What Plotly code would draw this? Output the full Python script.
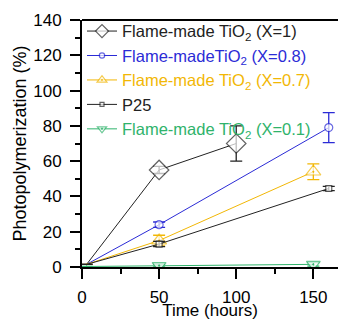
import plotly.graph_objects as go

# ---- data ----
time_x1 = [3, 50, 100]
val_x1 = [1.5, 55, 70]
err_x1 = [0, 2, 10]

time_x08 = [3, 50, 160]
val_x08 = [1.5, 24, 79]
err_x08 = [0, 1.5, 8.5]

time_x07 = [3, 50, 150]
val_x07 = [1.5, 15, 54]
err_x07 = [0, 3, 4.5]

time_p25 = [3, 50, 160]
val_p25 = [1.5, 13, 44.5]
err_p25 = [0, 1.5, 1.2]

time_x01 = [3, 50, 150]
val_x01 = [0.3, 0.8, 1.5]
err_x01 = [0, 0.8, 1.0]

x_ticks = [0, 50, 100, 150]
y_ticks = [0, 20, 40, 60, 80, 100, 120, 140]

BLACK = "#222222"
BLUE = "#2b2bd6"
ORANGE = "#f2b705"
GREEN = "#2fb36b"

FONT = "Liberation Sans, Arial, sans-serif"

series = [
    ("Flame-made TiO<sub>2</sub> (X=1)", time_x1, val_x1, err_x1, BLACK, "diamond", 15),
    ("Flame-madeTiO<sub>2</sub> (X=0.8)", time_x08, val_x08, err_x08, BLUE, "circle", 8),
    ("Flame-made TiO<sub>2</sub> (X=0.7)", time_x07, val_x07, err_x07, ORANGE, "triangle-up-dot", 13),
    ("P25", time_p25, val_p25, err_p25, BLACK, "square", 6),
    ("Flame-made TiO<sub>2</sub> (X=0.1)", time_x01, val_x01, err_x01, GREEN, "triangle-down-dot", 12),
]

fig = go.Figure()
for name, xs, ys, es, col, sym, sz in series:
    fig.add_trace(go.Scatter(
        x=xs, y=ys, mode="lines+markers",
        name=f'<span style="color:{col}">{name}</span>',
        line=dict(color=col, width=1),
        marker=dict(symbol=sym, size=[0] + [sz] * (len(xs) - 1), color="white",
                    line=dict(color=col, width=1.2)),
        error_y=dict(type="data", array=es, visible=True, color=col, thickness=1.3, width=6),
    ))

# top frame line
fig.add_shape(type="line", xref="paper", yref="paper", x0=0, x1=1, y0=1, y1=1,
              line=dict(color="black", width=2))

fig.update_layout(
    width=338, height=320,
    margin=dict(l=82, r=0, t=20, b=53, autoexpand=False),
    paper_bgcolor="white", plot_bgcolor="white",
    font=dict(family=FONT, size=17, color="black"),
    showlegend=True,
    legend=dict(x=0.0, y=1.025, xanchor="left", yanchor="top",
                bgcolor="rgba(0,0,0,0)", font=dict(size=16.5, family=FONT),
                tracegroupgap=0, itemwidth=30),
    xaxis=dict(range=[0, 166], tickmode="array", tickvals=x_ticks, automargin=False,
               showline=True, linecolor="black", linewidth=2,
               ticks="outside", ticklen=10, tickwidth=2, tickcolor="black",
               ticklabelstandoff=4,
               minor=dict(dtick=25, ticks="outside", ticklen=5, tickwidth=2, tickcolor="black"),
               showgrid=False, zeroline=False,
               title=dict(text="Time (hours)", standoff=0, font=dict(size=17)),
               tickfont=dict(size=17)),
    yaxis=dict(range=[0, 140], tickmode="array", tickvals=y_ticks, automargin=False,
               showline=True, linecolor="black", linewidth=2,
               ticks="outside", ticklen=10, tickwidth=2, tickcolor="black",
               ticklabelstandoff=5,
               minor=dict(dtick=10, ticks="outside", ticklen=5, tickwidth=2, tickcolor="black"),
               showgrid=False, zeroline=False,
               title=dict(text="Photopolymerization (%)", standoff=2, font=dict(size=18)),
               tickfont=dict(size=17)),
)

fig.write_html("out.html", config={"displayModeBar": False},
               post_script="document.body.style.margin='0';")
